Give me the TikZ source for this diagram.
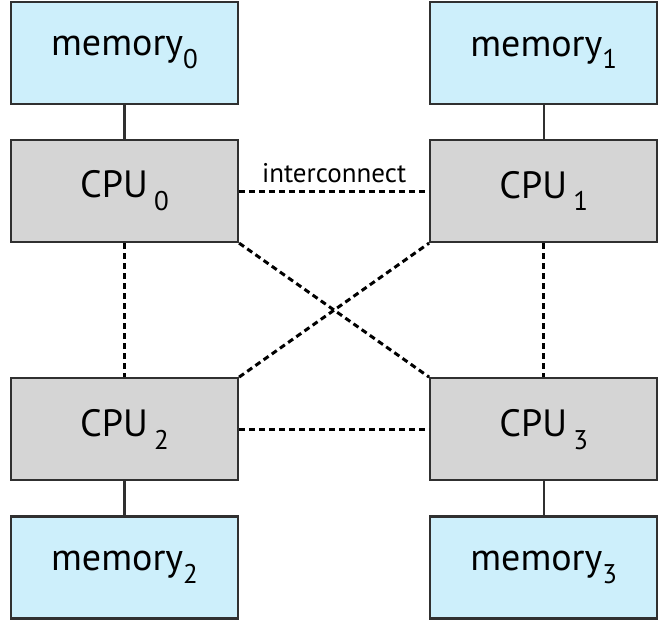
\documentclass[tikz,border=0pt]{standalone}
\usepackage{fontspec}
\setmainfont{PT Sans}
\usetikzlibrary{positioning}
\definecolor{memblue}{HTML}{CDEFFB}
\definecolor{cpugray}{HTML}{D5D5D5}
\definecolor{edge}{HTML}{303030}
\newcommand{\idx}[1]{\raisebox{-0.34em}{\fontsize{27}{27}\selectfont #1}}
\tikzset{
  unit/.style={draw=edge, line width=2.2pt, minimum width=227pt, minimum height=102pt, inner sep=0pt, font=\fontsize{38}{44}\selectfont},
  mem/.style={unit, fill=memblue},
  cpu/.style={unit, fill=cpugray},
  bus/.style={line width=2.2pt, draw=edge},
  link/.style={line width=3pt, dash pattern=on 6pt off 4pt},
}

\begin{document}
\begin{tikzpicture}
  \useasboundingbox (0,0) rectangle (671pt,-622pt);
  \node[cpu] (c0) at (124.5pt,-191pt) {CPU\,\idx{0}};
  \node[cpu, right=190pt of c0] (c1) {CPU\,\idx{1}};
  \node[cpu, below=134pt of c0] (c2) {CPU\,\idx{2}};
  \node[cpu, right=190pt of c2] (c3) {CPU\,\idx{3}};
  \node[mem, above=34pt of c0] (m0) {memory\idx{0}};
  \node[mem, above=34pt of c1] (m1) {memory\idx{1}};
  \node[mem, below=34pt of c2] (m2) {memory\idx{2}};
  \node[mem, below=34pt of c3] (m3) {memory\idx{3}};
  % memory buses
  \draw[bus] (m0) -- (c0); \draw[bus] (m1) -- (c1);
  \draw[bus] (c2) -- (m2); \draw[bus] (c3) -- (m3);
  % interconnect
  \draw[link] (c0) -- node[above=3pt, font=\fontsize{27}{30}\selectfont] (ic) {interconnect} (c1);
  \draw[link] (c2) -- (c3);
  \draw[link] (c0) -- (c2); \draw[link] (c1) -- (c3);
  \draw[link] (c0.south east) -- (c3.north west);
  \draw[link] (c2.north east) -- (c1.south west);
\end{tikzpicture}
\end{document}
